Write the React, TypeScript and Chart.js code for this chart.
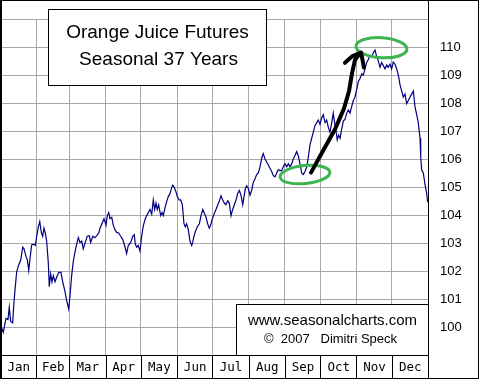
import React, { useEffect, useRef } from "react";
import { Chart, registerables } from "chart.js";

Chart.register(...registerables);

// ---- data ----
const monthLabels = ["Jan", "Feb", "Mar", "Apr", "May", "Jun", "Jul", "Aug", "Sep", "Oct", "Nov", "Dec"];
const monthStarts = [0, 31, 59, 90, 120, 151, 181, 212, 243, 273, 304, 334, 365];
const yMin = 99;
const yMax = 111;
const yLabelMin = 100;
const yLabelMax = 110;

const days = [
  1.4, 2.8, 5.1, 6.8, 7.9, 9.1, 10.8, 11.9, 12.8, 14.2, 15.6, 17.7, 19.4, 20.5, 22.2, 23.3, 24.5, 25.6, 27.0, 28.4,
  30.1, 31.3, 32.7, 33.9, 35.2, 36.4, 37.5, 38.6, 39.8, 41.2, 42.0, 43.2, 44.3, 45.5, 46.9, 48.4, 50.1, 52.0, 53.5, 55.4,
  56.9, 58.6, 59.7, 61.1, 62.5, 64.0, 65.4, 66.8, 68.2, 69.7, 71.0, 72.7, 74.4, 76.2, 77.3, 79.1, 80.8, 82.5, 84.2, 85.3,
  87.0, 88.7, 90.4, 91.5, 92.7, 93.8, 95.3, 96.6, 98.1, 99.5, 101.2, 102.9, 104.6, 106.3, 108.0, 109.4, 111.5, 113.2, 114.5, 115.4,
  116.6, 117.9, 119.4, 120.8, 122.2, 123.7, 125.1, 126.5, 127.9, 129.4, 130.7, 131.9, 133.0, 134.1, 135.3, 137.0, 138.2, 139.3, 140.7, 142.2,
  143.5, 145.0, 146.4, 147.3, 148.6, 150.1, 151.2, 152.7, 154.1, 155.5, 156.9, 158.0, 159.2, 160.6, 162.0, 163.5, 164.3, 165.4, 166.6, 168.3,
  170.0, 171.4, 172.9, 174.0, 175.7, 177.1, 178.5, 179.7, 181.1, 182.5, 184.2, 185.7, 187.0, 188.5, 189.9, 191.3, 192.7, 194.2, 195.5, 197.0,
  198.4, 199.8, 201.3, 202.7, 204.1, 205.5, 207.0, 208.1, 209.2, 210.4, 211.7, 213.2, 214.6, 216.0, 217.5, 218.9, 220.3, 221.1, 222.3, 223.4,
  224.5, 226.0, 227.4, 228.8, 230.3, 231.7, 233.1, 234.5, 236.0, 237.3, 238.8, 240.2, 241.6, 243.0, 244.5, 245.9, 247.3, 248.8, 250.1, 251.6,
  253.0, 254.4, 255.8, 257.3, 258.7, 260.1, 261.6, 262.9, 264.4, 265.8, 267.2, 268.6, 270.1, 271.4, 272.9, 274.3, 275.7, 277.2, 278.6, 280.0,
  281.4, 282.9, 284.2, 285.1, 286.3, 287.6, 288.8, 290.0, 291.4, 292.8, 294.2, 295.7, 297.0, 298.5, 299.9, 301.3, 302.7, 304.2, 305.6, 307.0,
  308.5, 309.8, 311.3, 312.7, 314.1, 315.5, 317.0, 318.3, 319.8, 321.2, 322.6, 324.1, 325.5, 326.9, 328.3, 329.8, 331.1, 332.6, 334.0, 335.4,
  336.9, 338.3, 339.7, 341.1, 342.6, 343.9, 345.4, 346.8, 348.2, 349.6, 351.1, 352.5, 353.9, 355.4, 356.7, 358.2, 358.8, 359.6, 361.0, 362.4,
  363.9, 364.7,
];

const prices = [
  99.98, 99.81, 100.31, 100.27, 100.71, 100.2, 100.15, 100.88, 101.33, 101.97, 102.18, 102.41, 102.86, 102.8, 102.52, 102.41, 102.03, 102.46, 102.94, 102.97,
  102.92, 103.25, 103.59, 103.78, 103.39, 103.25, 103.54, 103.37, 103.08, 102.29, 101.45, 101.9, 101.62, 101.84, 101.62, 101.79, 101.96, 101.96, 101.62, 101.28,
  100.94, 100.65, 101.11, 101.84, 102.35, 102.69, 102.97, 103.2, 103.03, 103.08, 102.8, 103.03, 103.25, 103.27, 103.03, 103.25, 103.2, 103.27, 103.37, 103.54,
  103.71, 103.88, 103.65, 103.99, 104.1, 103.88, 103.93, 103.65, 103.48, 103.39, 103.37, 103.25, 103.14, 102.92, 102.63, 102.92, 103.03, 103.25, 103.31, 102.97,
  102.86, 102.92, 102.72, 103.25, 103.62, 103.85, 103.99, 104.1, 104.21, 104.04, 104.55, 104.21, 104.44, 104.21, 104.38, 103.99, 104.1, 103.99, 104.27, 104.5,
  104.67, 104.78, 105.0, 105.08, 105.0, 104.84, 104.67, 104.55, 104.55, 104.38, 103.7, 103.59, 103.7, 103.48, 103.08, 102.92, 103.03, 103.25, 103.42, 103.59,
  103.7, 103.99, 104.21, 104.1, 103.93, 103.7, 103.54, 103.65, 103.88, 104.04, 104.21, 104.38, 104.5, 104.7, 104.55, 104.44, 104.38, 104.52, 104.44, 103.99,
  104.21, 104.38, 104.55, 104.78, 104.89, 104.72, 104.38, 104.67, 104.95, 105.06, 104.97, 104.72, 104.89, 105.18, 105.31, 105.46, 105.52, 105.63, 105.85, 106.08,
  106.21, 106.02, 105.91, 105.8, 105.68, 105.57, 105.42, 105.38, 105.52, 105.63, 105.6, 105.6, 105.74, 105.85, 105.74, 105.85, 105.74, 105.85, 106.02, 106.14,
  106.28, 106.14, 105.85, 105.52, 105.46, 105.57, 105.74, 106.08, 106.53, 106.76, 106.98, 107.21, 107.32, 107.41, 107.26, 107.49, 107.6, 107.32, 107.41, 107.15,
  106.98, 107.32, 107.66, 107.38, 107.09, 106.7, 106.87, 106.76, 107.09, 107.38, 107.43, 107.66, 107.77, 107.66, 107.89, 108.11, 108.23, 108.51, 108.79, 108.9,
  109.07, 109.02, 109.24, 109.47, 109.58, 109.72, 109.69, 109.81, 109.92, 109.69, 109.53, 109.3, 109.47, 109.36, 109.24, 109.38, 109.3, 109.41, 109.24, 109.49,
  109.41, 109.24, 109.02, 108.68, 108.45, 108.23, 108.34, 108.0, 108.11, 108.23, 108.34, 108.45, 107.89, 107.6, 107.32, 106.76, 106.08, 105.63, 105.52, 105.12,
  104.78, 104.47,
];

const titleLines = ["Orange Juice Futures", "Seasonal 37 Years"];
const creditLines = ["www.seasonalcharts.com", "\u00A9  2007   Dimitri Speck"];

// hand-drawn annotations, in data units (day, value)
const lowMark = { day: 260.1, value: 105.46, rx: 25, ry: 9, rot: -0.1 };
const highMark = { day: 325.3, value: 110.0, rx: 25.5, ry: 10, rot: 0.066 };
const arrowShaft = [
  [265.2, 105.53], [275.5, 106.31], [285.7, 107.08], [293.4, 107.83], [297.6, 108.44],
  [300.2, 109.08], [302.7, 109.56], [307.0, 109.8],
];
const arrowHead = [[294.2, 109.46], [300.2, 109.69], [307.9, 109.83], [310.4, 109.29]];

const decorPlugin = {
  id: "decor",
  afterDraw(chart: any) {
    const { ctx, chartArea: a, scales } = chart;
    const xs = scales.x;
    const ys = scales.y;
    const W = chart.width;
    const H = chart.height;
    ctx.save();

    // month strip
    const stripTop = Math.round(a.bottom);
    const stripBot = H - 2;
    ctx.strokeStyle = "#000";
    ctx.lineWidth = 1;
    ctx.beginPath();
    for (let i = 1; i < monthStarts.length - 1; i++) {
      const x = Math.round(xs.getPixelForValue(monthStarts[i])) + 0.5;
      ctx.moveTo(x, stripTop);
      ctx.lineTo(x, stripBot);
    }
    ctx.stroke();
    ctx.fillStyle = "#000";
    ctx.font = "12.5px 'DejaVu Sans Mono', monospace";
    ctx.textAlign = "center";
    ctx.textBaseline = "middle";
    for (let i = 0; i < monthLabels.length; i++) {
      const cx = (xs.getPixelForValue(monthStarts[i]) + xs.getPixelForValue(monthStarts[i + 1])) / 2;
      ctx.fillText(monthLabels[i], cx + 0.5, (stripTop + stripBot) / 2 + 1);
    }

    // frames
    ctx.beginPath();
    ctx.moveTo(0, 0.5); ctx.lineTo(W - 1, 0.5);
    ctx.moveTo(0.5, 0); ctx.lineTo(0.5, stripBot);
    ctx.moveTo(1.5, 0); ctx.lineTo(1.5, stripBot);
    ctx.moveTo(W - 1.5, 0); ctx.lineTo(W - 1.5, stripBot + 1);
    ctx.moveTo(0, stripBot + 0.5); ctx.lineTo(W - 1, stripBot + 0.5);
    const rx = Math.round(a.right) + 0.5;
    ctx.moveTo(rx, 0); ctx.lineTo(rx, stripBot);
    ctx.moveTo(0, stripTop + 0.5); ctx.lineTo(rx, stripTop + 0.5);
    ctx.stroke();

    // title box
    ctx.fillStyle = "#fff";
    ctx.fillRect(48.5, 9.5, 218, 76);
    ctx.strokeRect(48.5, 9.5, 218, 76);
    ctx.fillStyle = "#000";
    ctx.font = "19px 'Liberation Sans', Arial, sans-serif";
    ctx.textBaseline = "middle";
    ctx.fillText(titleLines[0], 157.5, 33);
    ctx.fillText(titleLines[1], 158.5, 60);

    // credit box
    ctx.fillStyle = "#fff";
    ctx.fillRect(236.5, 304.5, rx - 236.5, stripTop - 304);
    ctx.strokeRect(236.5, 304.5, rx - 236.5, stripTop - 304);
    ctx.fillStyle = "#000";
    ctx.font = "15px 'Liberation Sans', Arial, sans-serif";
    ctx.fillText(creditLines[0], 332.5, 321);
    ctx.font = "13px 'Liberation Sans', Arial, sans-serif";
    ctx.fillText(creditLines[1], 330.5, 339);

    // green ellipses
    ctx.strokeStyle = "#3db54f";
    ctx.lineWidth = 3;
    for (const m of [lowMark, highMark]) {
      ctx.beginPath();
      ctx.ellipse(xs.getPixelForValue(m.day), ys.getPixelForValue(m.value), m.rx, m.ry, m.rot, 0, Math.PI * 2);
      ctx.stroke();
    }

    // black arrow
    ctx.strokeStyle = "#000";
    ctx.lineWidth = 4;
    ctx.lineCap = "round";
    ctx.lineJoin = "round";
    for (const path of [arrowShaft, arrowHead]) {
      ctx.beginPath();
      path.forEach(([d, v], i) => {
        const px = xs.getPixelForValue(d);
        const py = ys.getPixelForValue(v);
        if (i === 0) ctx.moveTo(px, py);
        else ctx.lineTo(px, py);
      });
      ctx.stroke();
    }
    ctx.restore();
  },
};

export default function App() {
  const ref = useRef<HTMLCanvasElement | null>(null);
  useEffect(() => {
    const canvas = ref.current;
    if (!canvas) return;
    const chart = new Chart(canvas, {
      type: "line",
      data: {
        datasets: [
          {
            data: days.map((d, i) => ({ x: d, y: prices[i] })),
            borderColor: "#000080",
            borderWidth: 1.2,
            pointRadius: 0,
            tension: 0,
            fill: false,
          },
        ],
      },
      options: {
        responsive: false,
        animation: false,
        devicePixelRatio: 1,
        layout: { padding: { left: 0, right: 0, top: 1, bottom: 0 } },
        plugins: { legend: { display: false }, tooltip: { enabled: false }, title: { display: false } },
        scales: {
          x: {
            type: "linear",
            min: 0,
            max: 365,
            afterBuildTicks: (s: any) => {
              s.ticks = monthStarts.map((v) => ({ value: v }));
            },
            afterFit: (s: any) => {
              s.height = 25;
            },
            ticks: { display: false },
            grid: { color: "#a8a8a8", lineWidth: 1, drawTicks: false },
            border: { display: false },
          },
          y: {
            position: "right",
            min: yMin,
            max: yMax,
            afterFit: (s: any) => {
              s.width = 52;
            },
            ticks: {
              stepSize: 1,
              padding: 12,
              color: "#000",
              font: { family: "'Liberation Sans', Arial, sans-serif", size: 13 },
              callback: (v: any) => (v >= yLabelMin && v <= yLabelMax ? String(v) : ""),
            },
            grid: { color: "#a8a8a8", lineWidth: 1, drawTicks: false },
            border: { display: false },
          },
        },
      },
      plugins: [decorPlugin],
    });
    return () => chart.destroy();
  }, []);
  return (
    <div style={{ position: "absolute", left: 0, top: 0, width: 480, height: 380, background: "#fff" }}>
      <canvas ref={ref} width={480} height={380} style={{ display: "block" }} />
    </div>
  );
}
